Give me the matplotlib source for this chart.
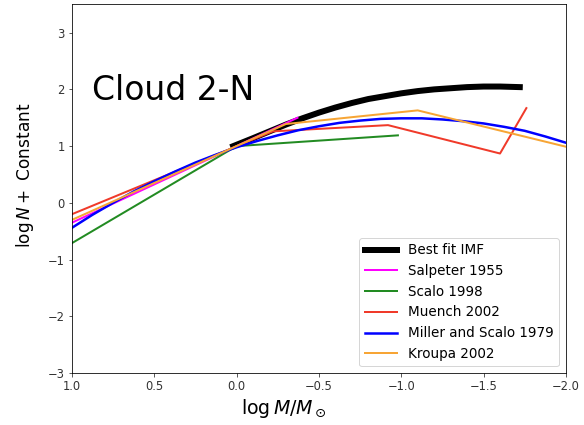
import matplotlib
matplotlib.use("Agg")
import matplotlib.pyplot as plt

# best fit IMF
fit_x = [0.02, -0.1, -0.2, -0.3, -0.4, -0.5, -0.6, -0.7, -0.8, -0.9, -1.0,
         -1.1, -1.2, -1.3, -1.4, -1.5, -1.6, -1.72]
fit_y = [1.0, 1.14, 1.26, 1.38, 1.49, 1.59, 1.68, 1.76, 1.83, 1.88, 1.93,
         1.97, 2.0, 2.02, 2.04, 2.05, 2.05, 2.04]

# Salpeter 1955
salp_x = [1.0, -0.37]
salp_y = [-0.35, 1.5]

# Scalo 1998
scalo_x = [1.0, 0.0, -0.98]
scalo_y = [-0.71, 1.0, 1.19]

# Muench 2002
muench_x = [1.0, -0.22, -0.92, -1.6, -1.76]
muench_y = [-0.2, 1.26, 1.37, 0.87, 1.67]

# Miller and Scalo 1979
ms_x = [1.0, 0.875, 0.75, 0.625, 0.5, 0.375, 0.25, 0.125, 0.0, -0.125, -0.25,
        -0.375, -0.5, -0.625, -0.75, -0.875, -1.0, -1.125, -1.25, -1.375,
        -1.5, -1.625, -1.75, -1.875, -2.0]
ms_y = [-0.44, -0.21, 0.0, 0.2, 0.38, 0.55, 0.71, 0.85, 0.98, 1.09, 1.19,
        1.28, 1.35, 1.41, 1.45, 1.48, 1.49, 1.49, 1.47, 1.44, 1.4, 1.34,
        1.27, 1.17, 1.06]

# Kroupa 2002
kroupa_x = [1.0, -0.3, -1.1, -2.0]
kroupa_y = [-0.3, 1.39, 1.63, 0.99]

fig, ax = plt.subplots(figsize=(584 / 72, 425 / 72), dpi=72)
fig.subplots_adjust(left=0.123, right=0.969, top=0.99, bottom=0.122)

ax.plot(fit_x, fit_y, color="black", lw=6, label="Best fit IMF")
ax.plot(salp_x, salp_y, color="magenta", lw=2, label="Salpeter 1955")
ax.plot(scalo_x, scalo_y, color="forestgreen", lw=2, label="Scalo 1998")
ax.plot(muench_x, muench_y, color="#f03a2a", lw=2, label="Muench 2002")
ax.plot(ms_x, ms_y, color="blue", lw=2.5, label="Miller and Scalo 1979")
ax.plot(kroupa_x, kroupa_y, color="#f7a535", lw=2, label="Kroupa 2002")

ax.set_xlim(1.0, -2.0)
ax.set_ylim(-3, 3.5)
ax.set_yticks([-3, -2, -1, 0, 1, 2, 3])
ax.tick_params(labelsize=11.5, colors="#333333")
ax.set_xlabel(r"$\log M/M_\odot$", fontsize=19)
ax.set_ylabel(r"$\log N +$ Constant", fontsize=17)
ax.xaxis.set_label_coords(0.429, -0.065)
ax.yaxis.set_label_coords(-0.073, 0.537)
ax.text(0.04, 0.74, "Cloud 2-N", transform=ax.transAxes, fontsize=33,
        va="baseline")
ax.legend(loc="lower right", fontsize=13.5, handlelength=2.4)

fig.savefig("out.png", dpi=72)
